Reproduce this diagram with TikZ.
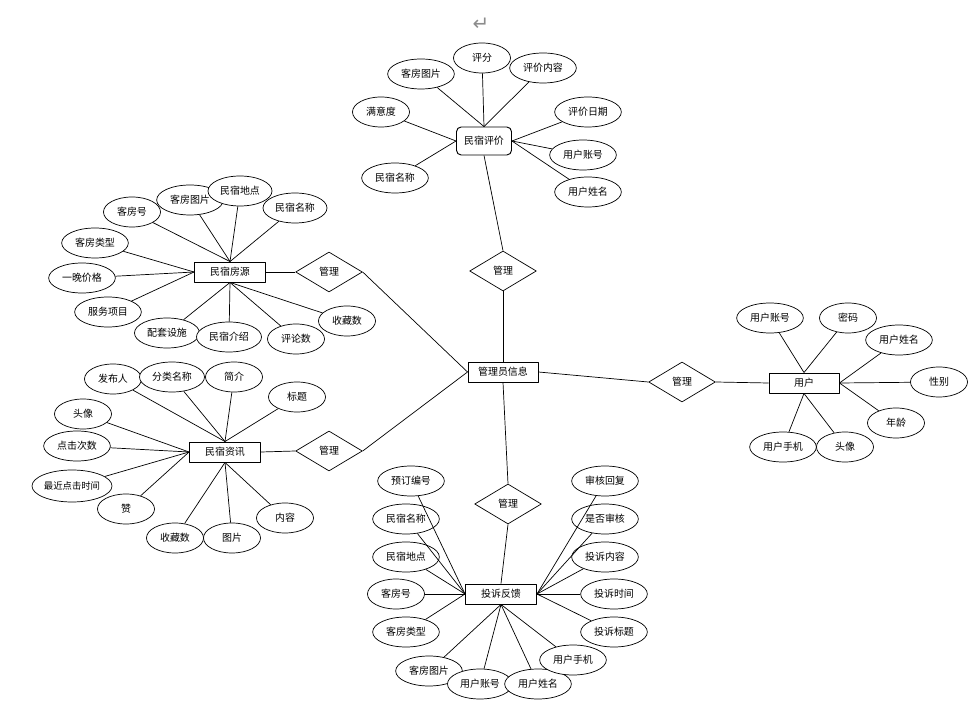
\documentclass[tikz,border=0pt]{standalone}
\usepackage{fontspec}
\setmainfont{Noto Sans CJK SC}
\newfontfamily\symfont{DejaVu Sans}
\usetikzlibrary{shapes.geometric}
\tikzset{entity/.style={
            draw,
            line width=0.8pt,
            fill=white,
            inner sep=0pt,
            minimum width=2.13cm,
            minimum height=0.6cm,
            font=\fontsize{8.5}{10}\selectfont
        },
        attr/.style={
            draw,
            ellipse,
            fill=white,
            inner sep=0pt,
            minimum width=1.71cm,
            minimum height=0.9cm,
            font=\fontsize{8.5}{10}\selectfont
        },
        wattr/.style={
            attr,
            minimum width=2cm
        },
        rel/.style={
            draw,
            diamond,
            fill=white,
            inner sep=0pt,
            minimum width=2cm,
            minimum height=1.2cm,
            font=\fontsize{8.5}{10}\selectfont
        }
    }
\begin{document}
\begin{tikzpicture}[x=0.03cm,y=-0.03cm,line width=0.6pt,line join=round]
\useasboundingbox (0,0) rectangle (973,710);
\node[text=gray!90,font=\symfont\fontsize{17}{17}\selectfont] (ret) at (481,24) {↵};
\node[entity,rounded corners=4pt,minimum width=1.65cm,minimum height=0.84cm] (pj) at (484,141) {民宿评价};
\node[attr] (pj1) at (482,58) {评分};
\node[wattr] (pj2) at (421,74) {客房图片};
\node[wattr] (pj3) at (543,68) {评价内容};
\node[attr] (pj4) at (381,112) {满意度};
\node[wattr] (pj5) at (395,178) {民宿名称};
\node[wattr] (pj6) at (588,112) {评价日期};
\node[wattr] (pj7) at (583,155) {用户账号};
\node[wattr] (pj8) at (588,192) {用户姓名};
\node[rel] (gl1) at (503,271) {管理};
\node[entity] (fy) at (230,272) {民宿房源};
\node[attr] (fy1) at (132,212) {客房号};
\node[wattr] (fy2) at (190,200) {客房图片};
\node[wattr,minimum width=1.92cm] (fy3) at (240,191) {民宿地点};
\node[wattr,minimum width=1.92cm] (fy4) at (295,208) {民宿名称};
\node[wattr] (fy5) at (95,243) {客房类型};
\node[wattr] (fy6) at (82,278) {一晚价格};
\node[wattr] (fy7) at (108,312) {服务项目};
\node[wattr,minimum width=1.95cm] (fy8) at (167,333) {配套设施};
\node[wattr,minimum width=1.95cm] (fy9) at (229,337) {民宿介绍};
\node[attr] (fy10) at (296,339) {评论数};
\node[attr] (fy11) at (347,321) {收藏数};
\node[rel] (gl2) at (329,272) {管理};
\node[entity,minimum width=2.1cm] (admin) at (503,372) {管理员信息};
\node[entity] (zx) at (225,452) {民宿资讯};
\node[attr] (zx1) at (113,379) {发布人};
\node[wattr,minimum width=1.95cm] (zx2) at (172,377) {分类名称};
\node[attr] (zx3) at (234,377) {简介};
\node[attr] (zx4) at (297,397) {标题};
\node[attr] (zx5) at (83,414) {头像};
\node[wattr] (zx6) at (77,446) {点击次数};
\node[attr,minimum width=2.4cm,minimum height=0.96cm,font=\fontsize{8}{10}\selectfont] (zx7) at (72,486) {最近点击时间};
\node[attr] (zx8) at (126,509) {赞};
\node[attr] (zx9) at (175,538) {收藏数};
\node[attr] (zx10) at (232,538) {图片};
\node[attr] (zx11) at (285,518) {内容};
\node[rel] (gl3) at (329,451) {管理};
\node[rel] (gl4) at (508,504) {管理};
\node[entity] (fk) at (501,594) {投诉反馈};
\node[wattr] (fk1) at (411,481) {预订编号};
\node[wattr] (fk2) at (406,519) {民宿名称};
\node[wattr] (fk3) at (406,557) {民宿地点};
\node[attr] (fk4) at (396,594) {客房号};
\node[wattr] (fk5) at (406,632) {客房类型};
\node[wattr] (fk6) at (429,671) {客房图片};
\node[wattr,minimum width=1.95cm] (fk7) at (480,684) {用户账号};
\node[wattr] (fk8) at (538,684) {用户姓名};
\node[wattr] (fk9) at (573,660) {用户手机};
\node[wattr] (fk10) at (605,481) {审核回复};
\node[wattr] (fk11) at (605,519) {是否审核};
\node[wattr] (fk12) at (605,557) {投诉内容};
\node[wattr] (fk13) at (614,594) {投诉时间};
\node[wattr] (fk14) at (614,632) {投诉标题};
\node[rel] (gl5) at (682,382) {管理};
\node[entity,minimum width=2.1cm] (yh) at (804,383) {用户};
\node[wattr] (yh1) at (770,318) {用户账号};
\node[attr] (yh2) at (848,318) {密码};
\node[wattr] (yh3) at (899,340) {用户姓名};
\node[attr] (yh4) at (939,382) {性别};
\node[attr] (yh5) at (896,423) {年龄};
\node[wattr] (yh7) at (783,447) {用户手机};
\node[attr] (yh6) at (845,447) {头像};
\draw (pj.north)--(pj1);\draw (pj.north)--(pj2);\draw (pj.north)--(pj3);
\draw (pj.west)--(pj4);\draw (pj.west)--(pj5);
\draw (pj.east)--(pj6);\draw (pj.east)--(pj7);\draw (pj.east)--(pj8);
\draw (pj.south)--(gl1.north);\draw (gl1.south)--(admin.north);
\draw (fy.north)--(fy1);\draw (fy.north)--(fy2);\draw (fy.north)--(fy3);\draw (fy.north)--(fy4);
\draw (fy.west)--(fy5);\draw (fy.west)--(fy6);\draw (fy.west)--(fy7);
\draw (fy.south)--(fy8);\draw (fy.south)--(fy9);\draw (fy.south)--(fy10);\draw (fy.south)--(fy11);
\draw (fy.east)--(gl2.west);\draw (gl2.east)--(admin.west);
\draw (zx.north)--(zx1);\draw (zx.north)--(zx2);\draw (zx.north)--(zx3);\draw (zx.north)--(zx4);
\draw (zx.west)--(zx5);\draw (zx.west)--(zx6);\draw (zx.west)--(zx7);\draw (zx.west)--(zx8);
\draw (zx.south)--(zx9);\draw (zx.south)--(zx10);\draw (zx.south)--(zx11);
\draw (zx.east)--(gl3.west);\draw (gl3.east)--(admin.west);
\draw (admin.south)--(gl4.north);\draw (gl4.south)--(fk.north);
\draw (fk.west)--(fk1);\draw (fk.west)--(fk2);\draw (fk.west)--(fk3);\draw (fk.west)--(fk4);\draw (fk.west)--(fk5);
\draw (fk.south)--(fk6);\draw (fk.south)--(fk7);\draw (fk.south)--(fk8);\draw (fk.south)--(fk9);
\draw (fk.east)--(fk10);\draw (fk.east)--(fk11);\draw (fk.east)--(fk12);\draw (fk.east)--(fk13);\draw (fk.east)--(fk14);
\draw (admin.east)--(gl5.west);\draw (gl5.east)--(yh.west);
\draw (yh.north)--(yh1);\draw (yh.north)--(yh2);
\draw (yh.east)--(yh3);\draw (yh.east)--(yh4);\draw (yh.east)--(yh5);
\draw (yh.south)--(yh6);\draw (yh.south)--(yh7);
\end{tikzpicture}
\end{document}
